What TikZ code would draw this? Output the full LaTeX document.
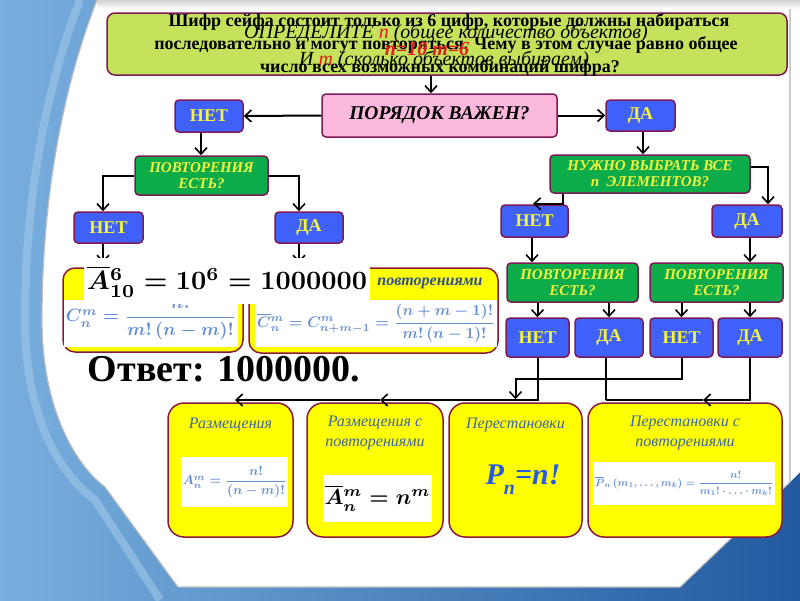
\documentclass[tikz,border=0pt]{standalone}
\usepackage{fontspec}
\setmainfont{Liberation Serif}
\usepackage{amsmath,bm,graphicx}
\usetikzlibrary{arrows.meta}
\definecolor{bgblue}{RGB}{55,118,185}
\definecolor{bgdark}{RGB}{35,90,160}
\definecolor{bgl}{RGB}{120,175,222}
\definecolor{boxblue}{RGB}{64,96,250}
\definecolor{bord}{RGB}{125,25,85}
\definecolor{boxgreen}{RGB}{12,172,75}
\definecolor{txtyel}{RGB}{245,245,60}
\definecolor{pinkbox}{RGB}{250,185,220}
\definecolor{bannercol}{RGB}{196,226,92}
\definecolor{yel}{RGB}{255,255,0}
\definecolor{ybord}{RGB}{140,25,55}
\definecolor{itblue}{RGB}{60,100,170}
\definecolor{fblue}{RGB}{100,142,212}
\definecolor{pblue}{RGB}{40,90,225}
\definecolor{redt}{RGB}{225,30,30}
\tikzset{
  bx/.style={draw=bord, line width=1.5pt, rounded corners=4pt, inner sep=0pt, align=center},
  bluebox/.style={bx, fill=boxblue, text=txtyel, font=\bfseries\fontsize{18}{18}\selectfont},
  greenbox/.style={bx, fill=boxgreen, text=txtyel, font=\bfseries\itshape\fontsize{15}{16}\selectfont},
  pinkstyle/.style={bx, fill=pinkbox, font=\bfseries\itshape\fontsize{19.5}{19.5}\selectfont},
  yelbox/.style={draw=ybord, line width=1.5pt, rounded corners=16pt, fill=yel, inner sep=0pt},
  fbox/.style={draw=ybord, line width=1.5pt, rounded corners=12pt, fill=yel, inner sep=0pt},
  whitebox/.style={fill=white, inner sep=0pt},
  lbl/.style={text=itblue, font=\itshape\fontsize{16}{20}\selectfont, align=center},
  blk/.style={font=\bfseries\fontsize{18}{18}\selectfont, inner sep=0pt},
  itl/.style={font=\itshape\fontsize{20}{20}\selectfont, inner sep=0pt},
  arr/.style={line width=2pt, -{Straight Barb[length=6.5pt,width=12pt,line width=1.6pt]}},
  ln/.style={line width=2pt},
}
\begin{document}
\begin{tikzpicture}[x=1pt,y=-1pt]
\useasboundingbox (0,0) rectangle (800,600);
% background
\shade[left color=bgl, right color=bgdark] (0,0) rectangle (800,600);
\draw[bgl!70!white, line width=8pt, opacity=0.6] (80,0) .. controls (45,90) and (25,200) .. (25,320) .. controls (25,410) and (55,470) .. (95,500) -- (160,600);
\fill[white] (97,0) .. controls (62,90) and (42,200) .. (42,320) .. controls (42,400) and (70,460) .. (105,487) -- (178,587) -- (680,587) -- (790,482) -- (800,472) -- (800,0) -- cycle;
\shade[top color=black!18, bottom color=white] (97,0) rectangle (800,9);
\draw[black!25, line width=1.2pt] (97,0) .. controls (62,90) and (42,200) .. (42,320) .. controls (42,400) and (70,460) .. (105,487) -- (178,587) -- (680,587) -- (790,482);
\draw[black!20, line width=1.5pt] (790,9) -- (790,482);
% banner
\node[bx, fill=bannercol, rounded corners=8pt, minimum width=680pt, minimum height=62pt] (banner) at (447,44) {};
\node[blk] (t1) at (449,22) {Шифр сейфа состоит только из 6 цифр, которые должны набираться};
\node[itl] (t4) at (446,33) {ОПРЕДЕЛИТЕ \textcolor{redt}{n} (общее количество объектов)};
\node[blk] (t2) at (446,45) {последовательно и могут повторяться. Чему в этом случае равно общее};
\node[font=\bfseries\itshape\fontsize{20}{20}\selectfont, text=redt, inner sep=0pt] (t6) at (427,49) {n=10 m=6};
\node[itl] (t5) at (444,60) {И \textcolor{redt}{m} (сколько объектов выбираем)};
\node[blk] (t3) at (440,68) {число всех возможных комбинаций шифра?};
% top nodes
\node[pinkstyle, minimum width=235pt, minimum height=43pt] (order) at (439.5,115.5) {ПОРЯДОК ВАЖЕН?};
\node[bluebox, minimum width=68pt, minimum height=32pt] (netA) at (209,116) {НЕТ};
\node[bluebox, minimum width=69pt, minimum height=31pt] (daA) at (640.5,115.5) {ДА};
\node[greenbox, minimum width=133pt, minimum height=39pt] (povA) at (201.5,175.5) {ПОВТОРЕНИЯ\\ЕСТЬ?};
\node[bluebox, minimum width=69pt, minimum height=31pt] (netB) at (108.5,227.5) {НЕТ};
\node[bluebox, minimum width=68pt, minimum height=31pt] (daB) at (309,227.5) {ДА};
\node[greenbox, minimum width=200pt, minimum height=38pt] (allQ) at (650,174) {НУЖНО ВЫБРАТЬ ВСЕ\\\textit{n}\ \ ЭЛЕМЕНТОВ?};
\node[bluebox, minimum width=67pt, minimum height=32pt] (netC) at (534.5,221) {НЕТ};
\node[bluebox, minimum width=70pt, minimum height=32pt] (daC) at (747,221) {ДА};
\node[greenbox, minimum width=131pt, minimum height=39pt] (povB) at (572.5,282.5) {ПОВТОРЕНИЯ\\ЕСТЬ?};
\node[greenbox, minimum width=133pt, minimum height=39pt] (povC) at (716.5,282.5) {ПОВТОРЕНИЯ\\ЕСТЬ?};
\node[bluebox, minimum width=63pt, minimum height=39pt] (n1) at (537.5,337.5) {НЕТ};
\node[bluebox, minimum width=68pt, minimum height=39pt] (d1) at (609,337.5) {ДА};
\node[bluebox, minimum width=63pt, minimum height=39pt] (n2) at (681.5,337.5) {НЕТ};
\node[bluebox, minimum width=64pt, minimum height=39pt] (d2) at (750,337.5) {ДА};
% top connectors
\draw[arr] ([xshift=-8.5pt]order.north |- banner.south) -- ([xshift=-8.5pt]order.north);
\draw[arr] (order.west) -- (netA.east);
\draw[arr] (order.east) -- (daA.west);
\draw[arr] ([xshift=-8pt]netA.south) -- ([xshift=-8pt]netA.south |- povA.north);
\draw[arr] (povA.west) -| ([xshift=-5.5pt]netB.north);
\draw[arr] (povA.east) -| ([xshift=-10pt]daB.north);
\draw[arr] ([xshift=-5.5pt]netB.south) -- ++(0,19);
\draw[arr] ([xshift=-10pt]daB.south) -- ++(0,19);
\draw[arr] ([xshift=2.5pt]daA.south) -- ([xshift=2.5pt]daA.south |- allQ.north);
\draw[arr] ([yshift=7pt]allQ.east) -| ([xshift=21pt]daC.north);
\draw[arr] ([xshift=-87pt]allQ.south) -- ++(0,10) -- ++(-30,0);
\draw[arr] ([xshift=-2.5pt]netC.south) -- ([xshift=-2.5pt]netC.south |- povB.north);
\draw[arr] ([xshift=3pt]daC.south) -- ([xshift=3pt]daC.south |- povC.north);
\draw[arr] (povB.south -| n1.north) -- (n1.north);
\draw[arr] (povB.south -| d1.north) -- (d1.north);
\draw[arr] (povC.south -| n2.north) -- (n2.north);
\draw[arr] (povC.south -| d2.north) -- (d2.north);
% formula boxes (left)
\node[fbox, minimum width=180pt, minimum height=84pt] (fA) at (153,310) {};
\node[whitebox, minimum width=174pt, minimum height=47pt] (wA) at (151,323.5) {};
\node[text=fblue, inner sep=0pt] (cA) at (151,318) {\resizebox{170pt}{!}{\boldmath$C_n^m=\dfrac{n!}{m!\,(n-m)!}$}};
\node[fbox, minimum width=249pt, minimum height=85pt] (fB) at (373.5,310.5) {};
\node[whitebox, minimum width=242pt, minimum height=47pt] (wB) at (376,323.5) {};
\node[text=fblue, inner sep=0pt] (cB) at (376,323.5) {\resizebox{238pt}{!}{\boldmath$\overline{C}{}_n^m=C_{n+m-1}^m=\dfrac{(n+m-1)!}{m!\,(n-1)!}$}};
\node[text=itblue!80!black, font=\bfseries\itshape\fontsize{16}{16}\selectfont, inner sep=0pt] (pv) at (430,283) {повторениями};
\node[whitebox, minimum width=286pt, minimum height=46pt] (wBig) at (227,281) {};
\node[inner sep=0pt] (big) at (227,282) {\resizebox{280pt}{!}{\boldmath$\overline{A}{}_{10}^{6}=10^6=1000000$}};
\node[font=\bfseries\fontsize{38}{38}\selectfont, inner sep=0pt] (ans) at (224,369) {Ответ: 1000000.};
% bottom boxes
\node[yelbox, minimum width=125pt, minimum height=134pt] (raz) at (230.5,470) {};
\node[yelbox, minimum width=136pt, minimum height=134pt] (razp) at (375,470) {};
\node[yelbox, minimum width=133pt, minimum height=134pt] (perm) at (515.5,470) {};
\node[yelbox, minimum width=194pt, minimum height=134pt] (permp) at (685,470) {};
\node[lbl] (l1) at (230.5,425) {Размещения};
\node[lbl] (l2) at (375,433) {Размещения с\\повторениями};
\node[lbl] (l3) at (515.5,425) {Перестановки};
\node[lbl] (l4) at (685,433) {Перестановки с\\повторениями};
\node[whitebox, minimum width=107pt, minimum height=50pt] (w1) at (234.5,482) {};
\node[text=fblue, inner sep=0pt] (f1) at (234.5,482) {\resizebox{104pt}{!}{\boldmath$A_n^m=\dfrac{n!}{(n-m)!}$}};
\node[whitebox, minimum width=109pt, minimum height=47pt] (w2) at (377.5,498.5) {};
\node[inner sep=0pt] (f2) at (377.5,498.5) {\resizebox{106pt}{!}{\boldmath$\overline{A}{}_n^m=n^m$}};
\node[text=pblue, font=\bfseries\itshape\fontsize{30}{30}\selectfont, inner sep=0pt] (f3) at (523,480) {P\raisebox{-10pt}{\fontsize{20}{20}\selectfont n}=n!};
\node[whitebox, minimum width=182pt, minimum height=43pt] (w4) at (684,483.5) {};
\node[text=fblue, inner sep=0pt] (f4) at (684,483.5) {\resizebox{178pt}{!}{\boldmath$\overline{P}_n\,(m_1,\dots,m_k)=\dfrac{n!}{m_1!\cdot\ldots\cdot m_k!}$}};
% bottom connectors
\coordinate (hl) at (0,400);
\coordinate (m1) at (380,400);
\coordinate (m2) at (703,400);
\draw[arr] (n1.south) -- (n1.south |- hl) -- (m1);
\draw[arr] (m1) -- ([xshift=4.5pt]raz.north |- hl);
\draw[ln] ([xshift=-3pt]d1.south) -- ([xshift=-3pt]d1.south |- hl);
\draw[arr] (d2.south) -- (d2.south |- hl) -- (m2);
\draw[ln] (m2) -- ([xshift=-3pt]d1.south |- hl);
\draw[arr] (n2.south) -- ++(0,21) -| ([yshift=3pt]perm.north);
\end{tikzpicture}
\end{document}
